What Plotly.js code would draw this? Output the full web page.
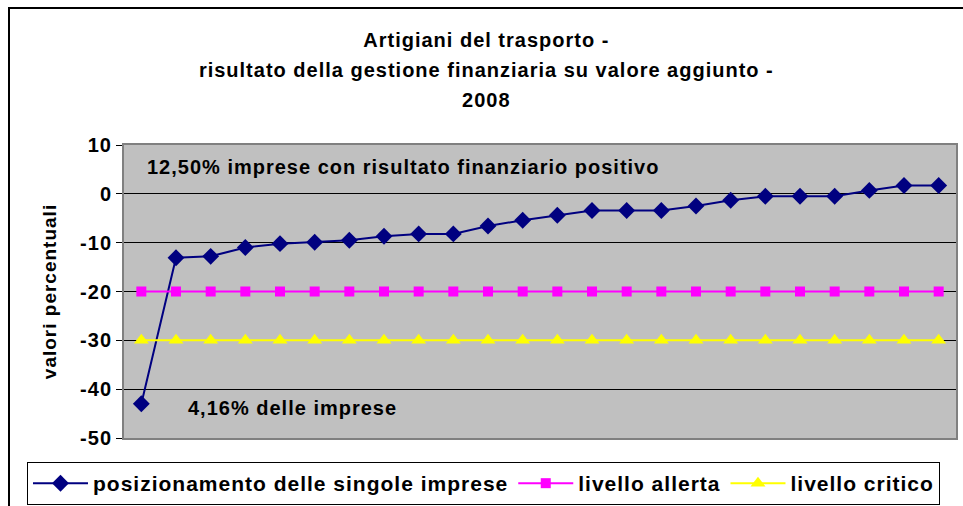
<!DOCTYPE html>
<html>
<head>
<meta charset="utf-8">
<script src="https://cdn.plot.ly/plotly-3.0.1.min.js"></script>
<style>
  html, body { margin: 0; padding: 0; background: #ffffff; }
  #wrap { position: relative; width: 963px; height: 506px; }
  #chart { width: 963px; height: 506px; }
  svg text { letter-spacing: 1px; }
  #frame { position: absolute; left: 8px; top: 7px; width: 960px; height: 510px;
           border-left: 2px solid #000; border-top: 2px solid #000; pointer-events: none; }
</style>
</head>
<body>
<div id="wrap">
  <div id="chart"></div>
  <div id="frame"></div>
</div>
<script>
// Data
const categories = [1,2,3,4,5,6,7,8,9,10,11,12,13,14,15,16,17,18,19,20,21,22,23,24];
const posizionamento = [-43.0, -13.1, -12.8, -11.0, -10.2, -9.9, -9.5, -8.7, -8.2, -8.2, -6.6, -5.4,
                        -4.4, -3.4, -3.4, -3.4, -2.5, -1.3, -0.5, -0.5, -0.5, 0.7, 1.7, 1.7];
const livelloAllerta = categories.map(() => -20);
const livelloCritico = categories.map(() => -30);
const yTicks = [10, 0, -10, -20, -30, -40, -50];

const seriesNames = ['posizionamento delle singole imprese', 'livello allerta', 'livello critico'];
const titleLines = ['Artigiani del trasporto -', 'risultato della gestione finanziaria su valore aggiunto -', '2008'];
const noteTop = '12,50% imprese con risultato finanziario positivo';
const noteBottom = '4,16% delle imprese';

const FONT = 'Liberation Sans, Arial, sans-serif';
const FS = 20;

const traces = [
  {
    x: categories, y: posizionamento, name: seriesNames[0], type: 'scatter', mode: 'lines+markers',
    line: { color: '#000080', width: 2 },
    marker: { symbol: 'diamond', size: 13, color: '#000080' }
  },
  {
    x: categories, y: livelloAllerta, name: seriesNames[1], type: 'scatter', mode: 'lines+markers',
    line: { color: '#FF00FF', width: 2 },
    marker: { symbol: 'square', size: 10, color: '#FF00FF' }
  },
  {
    x: categories, y: livelloCritico, name: seriesNames[2], type: 'scatter', mode: 'lines+markers',
    line: { color: '#FFFF00', width: 2 },
    marker: { symbol: 'triangle-up', size: 13, color: '#FFFF00' }
  }
];

const layout = {
  width: 963, height: 506,
  margin: { l: 124, r: 7, t: 145, b: 68, autoexpand: false },
  paper_bgcolor: '#ffffff',
  plot_bgcolor: '#C0C0C0',
  font: { family: FONT, color: '#000', size: FS },
  title: {
    text: titleLines.map(t => '<span style="font-size:' + FS + 'px">' + t + '</span>').join('<br>'),
    font: { family: FONT, size: 23, color: '#000', weight: 'bold' },
    x: 0.505, xanchor: 'center', y: 0.907, yanchor: 'top'
  },
  showlegend: true,
  legend: {
    orientation: 'h', x: -0.1166, xanchor: 'left', y: -0.082, yanchor: 'top',
    bgcolor: '#ffffff', bordercolor: '#000', borderwidth: 1,
    font: { family: FONT, size: 21, color: '#000', weight: 'bold' },
    itemwidth: 55, tracegroupgap: 0
  },
  xaxis: {
    range: [0.5, 24.5], showticklabels: false, showgrid: false, zeroline: false,
    showline: true, linecolor: '#808080', linewidth: 2, mirror: true, ticks: ''
  },
  yaxis: {
    range: [-50, 10], tickvals: yTicks, ticktext: yTicks.map(String),
    showgrid: true, gridcolor: '#000', gridwidth: 1, zeroline: false,
    showline: true, linecolor: '#808080', linewidth: 2, mirror: true,
    ticks: 'outside', ticklen: 6, tickcolor: '#000', tickwidth: 1,
    tickfont: { family: FONT, size: FS, color: '#000', weight: 'bold' },
    title: { text: 'valori percentuali', font: { family: FONT, size: 19, color: '#000', weight: 'bold' }, standoff: 18 }
  },
  annotations: [
    { xref: 'paper', yref: 'y', x: 0.025, y: 5.4, xanchor: 'left', yanchor: 'middle', showarrow: false,
      text: noteTop, font: { family: FONT, size: FS, color: '#000', weight: 'bold' } },
    { xref: 'paper', yref: 'y', x: 0.074, y: -43.8, xanchor: 'left', yanchor: 'middle', showarrow: false,
      text: noteBottom, font: { family: FONT, size: FS, color: '#000', weight: 'bold' } }
  ]
};

Plotly.newPlot('chart', traces, layout, { displayModeBar: false, staticPlot: true });
</script>
</body>
</html>
